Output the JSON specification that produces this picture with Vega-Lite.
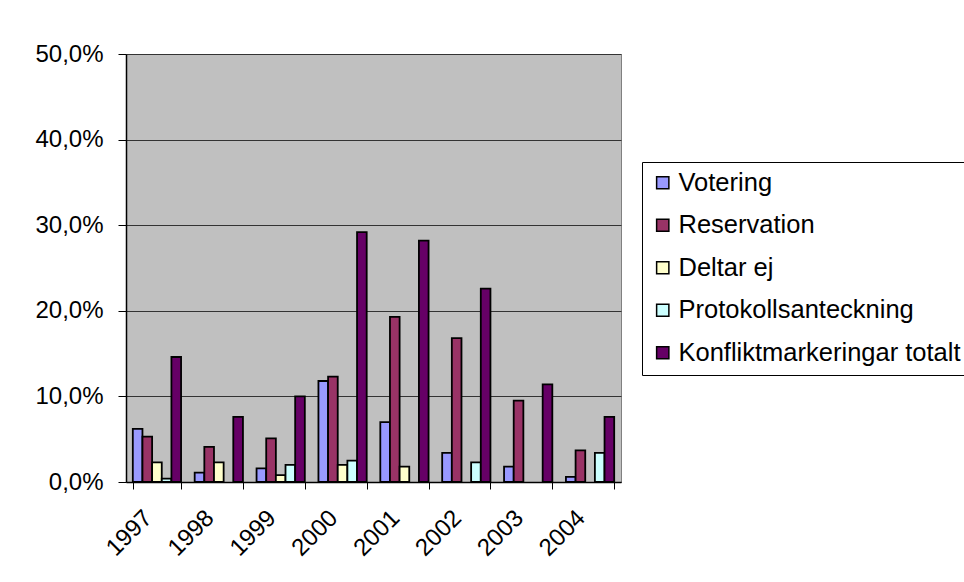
{
  "$schema": "https://vega.github.io/schema/vega-lite/v6.json",
  "width": 495,
  "height": 428,
  "autosize": {"type": "none"},
  "padding": {"left": 126, "top": 54, "right": 343, "bottom": 100},
  "background": "#ffffff",
  "config": {
    "font": "Liberation Sans",
    "view": {"fill": "#c0c0c0", "stroke": "#808080", "strokeWidth": 1},
    "axis": {"labelFont": "Liberation Sans", "labelColor": "#000000", "labelFontSize": 24}
  },
  "data": {
    "values": [
      {"year": "1997", "typ": "Votering", "andel": 0.062},
      {"year": "1997", "typ": "Reservation", "andel": 0.053},
      {"year": "1997", "typ": "Deltar ej", "andel": 0.023},
      {"year": "1997", "typ": "Protokollsanteckning", "andel": 0.004},
      {"year": "1997", "typ": "Konfliktmarkeringar totalt", "andel": 0.146},
      {"year": "1998", "typ": "Votering", "andel": 0.011},
      {"year": "1998", "typ": "Reservation", "andel": 0.041},
      {"year": "1998", "typ": "Deltar ej", "andel": 0.023},
      {"year": "1998", "typ": "Konfliktmarkeringar totalt", "andel": 0.076},
      {"year": "1999", "typ": "Votering", "andel": 0.016},
      {"year": "1999", "typ": "Reservation", "andel": 0.051},
      {"year": "1999", "typ": "Deltar ej", "andel": 0.008},
      {"year": "1999", "typ": "Protokollsanteckning", "andel": 0.020},
      {"year": "1999", "typ": "Konfliktmarkeringar totalt", "andel": 0.100},
      {"year": "2000", "typ": "Votering", "andel": 0.118},
      {"year": "2000", "typ": "Reservation", "andel": 0.123},
      {"year": "2000", "typ": "Deltar ej", "andel": 0.020},
      {"year": "2000", "typ": "Protokollsanteckning", "andel": 0.025},
      {"year": "2000", "typ": "Konfliktmarkeringar totalt", "andel": 0.292},
      {"year": "2001", "typ": "Votering", "andel": 0.070},
      {"year": "2001", "typ": "Reservation", "andel": 0.193},
      {"year": "2001", "typ": "Deltar ej", "andel": 0.018},
      {"year": "2001", "typ": "Konfliktmarkeringar totalt", "andel": 0.282},
      {"year": "2002", "typ": "Votering", "andel": 0.034},
      {"year": "2002", "typ": "Reservation", "andel": 0.168},
      {"year": "2002", "typ": "Protokollsanteckning", "andel": 0.023},
      {"year": "2002", "typ": "Konfliktmarkeringar totalt", "andel": 0.226},
      {"year": "2003", "typ": "Votering", "andel": 0.018},
      {"year": "2003", "typ": "Reservation", "andel": 0.095},
      {"year": "2003", "typ": "Konfliktmarkeringar totalt", "andel": 0.114},
      {"year": "2004", "typ": "Votering", "andel": 0.006},
      {"year": "2004", "typ": "Reservation", "andel": 0.037},
      {"year": "2004", "typ": "Protokollsanteckning", "andel": 0.034},
      {"year": "2004", "typ": "Konfliktmarkeringar totalt", "andel": 0.076}
    ]
  },
  "mark": {"type": "bar", "stroke": "#000000", "strokeWidth": 1.8},
  "encoding": {
    "x": {
      "field": "year",
      "type": "nominal",
      "scale": {"paddingInner": 0.22, "paddingOuter": 0.11},
      "axis": {
        "title": null,
        "labelAngle": -45,
        "labelAlign": "right",
        "labelBaseline": "middle",
        "labelPadding": 25,
        "labelOffset": -9,
        "tickBand": "extent",
        "tickSize": 7,
        "tickColor": "#000000",
        "domainColor": "#000000",
        "domainWidth": 1.5
      }
    },
    "xOffset": {
      "field": "typ",
      "type": "nominal",
      "scale": {
        "domain": ["Votering", "Reservation", "Deltar ej", "Protokollsanteckning", "Konfliktmarkeringar totalt"],
        "paddingInner": 0,
        "paddingOuter": 0
      }
    },
    "y": {
      "field": "andel",
      "type": "quantitative",
      "scale": {"domain": [0, 0.5], "nice": false},
      "axis": {
        "title": null,
        "values": [0, 0.1, 0.2, 0.3, 0.4, 0.5],
        "labelExpr": "replace(format(datum.value, '.1%'), '.', ',')",
        "labelPadding": 15,
        "tickSize": 8,
        "tickColor": "#000000",
        "domainColor": "#000000",
        "domainWidth": 1.5,
        "grid": true,
        "gridColor": "#333333",
        "gridWidth": 1
      }
    },
    "color": {
      "field": "typ",
      "type": "nominal",
      "scale": {
        "domain": ["Votering", "Reservation", "Deltar ej", "Protokollsanteckning", "Konfliktmarkeringar totalt"],
        "range": ["#9999ff", "#993366", "#ffffcc", "#ccffff", "#660066"]
      },
      "legend": {
        "title": null,
        "orient": "none",
        "legendX": 516,
        "legendY": 108,
        "strokeColor": "#000000",
        "fillColor": "#ffffff",
        "padding": 8,
        "symbolType": "square",
        "symbolSize": 150,
        "symbolStrokeColor": "#000000",
        "symbolStrokeWidth": 1.5,
        "symbolOpacity": 1,
        "labelFont": "Liberation Sans",
        "labelFontSize": 25.5,
        "labelColor": "#000000",
        "labelOffset": 3,
        "labelLimit": 400,
        "rowPadding": 15.5
      }
    }
  }
}
